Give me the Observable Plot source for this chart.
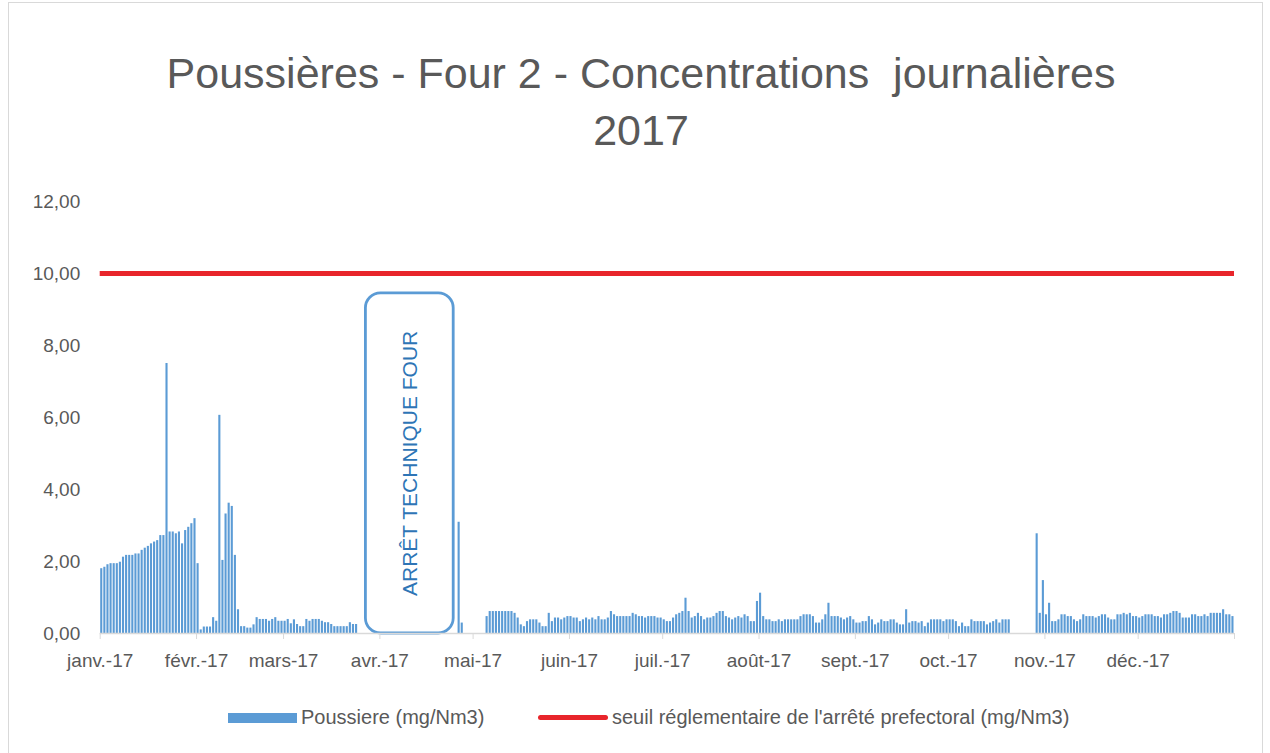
<!DOCTYPE html>
<html><head><meta charset="utf-8">
<script src="https://cdn.jsdelivr.net/npm/d3@7"></script>
<script src="https://cdn.jsdelivr.net/npm/@observablehq/plot@0.6"></script>
<style>
html,body{margin:0;padding:0;background:#fff;overflow:hidden;width:1270px;height:753px;}
#frame{position:absolute;left:8px;top:2px;width:1255px;height:800px;border:1px solid #d9d9d9;box-sizing:border-box;}
.title{position:absolute;left:0;width:1282px;text-align:center;font-family:"Liberation Sans",Arial,sans-serif;font-size:43px;line-height:50px;color:#595959;white-space:pre;}
#chart{position:absolute;left:0;top:180px;}
.leg{position:absolute;font-family:"Liberation Sans",Arial,sans-serif;font-size:20px;line-height:24px;color:#595959;white-space:nowrap;}
.sw{position:absolute;}
</style></head><body>
<div id="frame"></div>
<div class="title" style="top:48px">Poussières - Four 2 - Concentrations  journalières</div>
<div class="title" style="top:105px">2017</div>
<div id="chart"></div>
<div class="sw" style="left:228px;top:713px;width:69px;height:10px;background:#5b9bd5"></div>
<div class="leg" style="left:301px;top:705px">Poussiere (mg/Nm3)</div>
<div class="sw" style="left:538px;top:715px;width:70px;height:5px;background:#e8252b;border-radius:3px"></div>
<div class="leg" style="left:612px;top:705px">seuil réglementaire de l'arrêté prefectoral (mg/Nm3)</div>
<script>
// Daily dust concentrations (mg/Nm3), one array per month; null = no measurement
const jan = [1.80,1.84,1.91,1.94,1.94,1.94,1.98,2.12,2.17,2.17,2.17,2.21,2.21,2.31,2.37,2.42,2.49,2.54,2.58,2.72,2.72,7.50,2.82,2.82,2.77,2.82,2.49,2.86,2.95,3.05,3.19];
const feb = [1.94,0.10,0.18,0.18,0.18,0.44,0.34,6.06,2.03,3.32,3.62,3.53,2.17,0.66,0.19,0.19,0.15,0.15,0.24,0.44,0.39,0.39,0.39,0.34,0.39,0.44,0.34,0.34];
const mar = [0.34,0.39,0.27,0.38,0.25,0.19,0.19,0.39,0.34,0.39,0.39,0.39,0.34,0.30,0.30,0.25,0.19,0.19,0.19,0.19,0.19,0.30,0.25,0.25,null,null,null,null,null,null,null];
const apr = [null,null,null,null,null,null,null,null,null,null,null,null,null,null,null,null,null,null,null,null,null,null,null,null,null,3.09,0.29,null,null,null];
const may = [null,null,null,null,0.47,0.61,0.61,0.61,0.61,0.61,0.61,0.61,0.61,0.56,0.43,0.24,0.19,0.33,0.38,0.38,0.38,0.29,0.19,0.19,0.56,0.33,0.43,0.43,0.38,0.43,0.47];
const jun = [0.47,0.43,0.43,0.33,0.38,0.43,0.38,0.43,0.38,0.47,0.38,0.38,0.43,0.61,0.52,0.47,0.47,0.47,0.47,0.47,0.56,0.52,0.47,0.47,0.43,0.47,0.47,0.47,0.43,0.43];
const jul = [0.38,0.33,0.33,0.43,0.52,0.56,0.61,0.98,0.61,0.43,0.47,0.56,0.47,0.38,0.43,0.43,0.47,0.56,0.61,0.61,0.47,0.43,0.38,0.43,0.47,0.43,0.52,0.47,0.33,0.33,0.89];
const aug = [1.12,0.47,0.38,0.38,0.33,0.33,0.38,0.33,0.38,0.38,0.38,0.38,0.38,0.47,0.52,0.52,0.52,0.47,0.29,0.29,0.38,0.52,0.84,0.47,0.47,0.47,0.43,0.38,0.43,0.47,0.38];
const sep = [0.29,0.29,0.33,0.33,0.47,0.38,0.24,0.29,0.38,0.33,0.33,0.38,0.38,0.29,0.24,0.24,0.66,0.29,0.33,0.33,0.29,0.33,0.19,0.29,0.38,0.38,0.38,0.38,0.33,0.38];
const oct = [0.38,0.38,0.33,0.19,0.29,0.19,0.19,0.38,0.33,0.33,0.33,0.33,0.24,0.29,0.33,0.38,0.29,0.38,0.38,0.38,null,null,null,null,null,null,null,null,2.77,0.56,1.47];
const nov = [0.52,0.84,0.33,0.33,0.38,0.52,0.52,0.47,0.47,0.38,0.33,0.38,0.52,0.47,0.47,0.47,0.43,0.47,0.52,0.52,0.43,0.38,0.38,0.52,0.52,0.56,0.52,0.56,0.47,0.47];
const dec = [0.43,0.47,0.52,0.52,0.52,0.47,0.47,0.43,0.52,0.52,0.56,0.61,0.61,0.56,0.43,0.43,0.43,0.52,0.52,0.47,0.47,0.52,0.47,0.56,0.56,0.56,0.56,0.66,0.52,0.52,0.47];

// Regulatory threshold (mg/Nm3)
const threshold = [10];

// Axis ticks
const monthLabels = ["janv.-17","févr.-17","mars-17","avr.-17","mai-17","juin-17","juil.-17","août-17","sept.-17","oct.-17","nov.-17","déc.-17"];
const yTicks = [0,2,4,6,8,10,12];

// Shutdown annotation
const stopStart = ["2017-03-27T12:00Z"];
const stopEnd = ["2017-04-24T18:00Z"];
const stopTop = [9.45];
const stopLabel = ["ARRÊT TECHNIQUE FOUR"];

const months = [jan,feb,mar,apr,may,jun,jul,aug,sep,oct,nov,dec];
const rows = [];
months.forEach((arr, m) => arr.forEach((v, i) => {
  if (v != null) rows.push({date: new Date(Date.UTC(2017, m, i + 1)), value: v});
}));

const tickDates = d3.range(13).map(m => new Date(Date.UTC(2017, m, 1)));
const box = stopStart.map((s, i) => ({
  x1: new Date(s), x2: new Date(stopEnd[i]), top: stopTop[i], label: stopLabel[i]
}));

const chart = Plot.plot({
  width: 1270,
  height: 493,
  marginLeft: 99.7,
  marginRight: 36,
  marginTop: 21,
  marginBottom: 40,
  style: {fontFamily: "'Liberation Sans', Arial, sans-serif", fontSize: "19px", color: "#595959", background: "transparent", overflow: "visible"},
  x: {type: "utc", domain: [new Date(Date.UTC(2017,0,1)), new Date(Date.UTC(2018,0,1))]},
  y: {domain: [0, 12]},
  marks: [
    Plot.rect(box, {x1: "x1", x2: "x2", y1: 0, y2: "top", rx: 15, fill: "white", stroke: "#5b9bd5", strokeWidth: 2.8}),
    Plot.text(box, {x: d => new Date((+d.x1 + +d.x2) / 2), y: d => d.top / 2, text: "label", rotate: -90, fontSize: 21, fill: "#2e75b6"}),
    Plot.rectY(rows, {x1: "date", x2: d => d3.utcDay.offset(d.date, 1), y: "value", fill: "#5b9bd5", insetLeft: 0.5, insetRight: 0.5}),
    Plot.ruleY([0], {stroke: "#d9d9d9", strokeWidth: 1.5}),
    Plot.ruleY(threshold, {stroke: "#e8252b", strokeWidth: 5}),
    Plot.axisY({ticks: yTicks, tickFormat: d => d.toFixed(2).replace(".", ","), tickSize: 0, tickPadding: 20, fill: "#595959", label: null}),
    Plot.axisX({ticks: tickDates, tickFormat: d => d.getUTCFullYear() === 2017 ? monthLabels[d.getUTCMonth()] : "", tickSize: 6, tickPadding: 14, stroke: "#d9d9d9", fill: "#595959", label: null})
  ]
});
document.getElementById("chart").appendChild(chart);
</script>
</body></html>
